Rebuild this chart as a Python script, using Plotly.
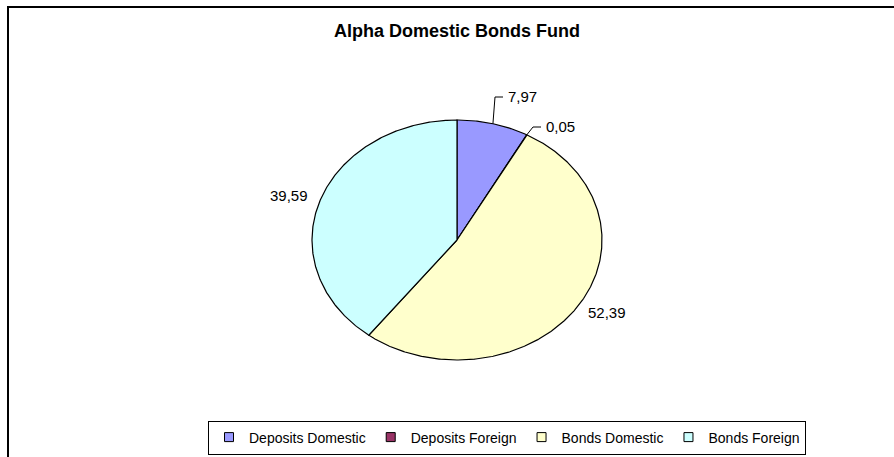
import numpy as np
import plotly.graph_objects as go

# ---- data ----
categories = ["Deposits Domestic", "Deposits Foreign", "Bonds Domestic", "Bonds Foreign"]
values = [7.97, 0.05, 52.39, 39.59]
colors = ["#9999FF", "#993366", "#FFFFCC", "#CCFFFF"]
title_text = "Alpha Domestic Bonds Fund"

# ---- layout geometry (pixels) ----
W, H = 894, 457
CX, CY, RX, RY = 457, 240, 145, 120   # ellipse centre / radii in px
XR, YR = 2.0, 1.6                      # axis half-ranges (data units)
FONT = "Arial, Liberation Sans, sans-serif"

def px2d(px, py):
    return (px - CX) / RX, (CY - py) / RY

x_dom = [(CX - XR * RX) / W, (CX + XR * RX) / W]
y_dom = [1 - (CY + YR * RY) / H, 1 - (CY - YR * RY) / H]

# label placement (pixels): text position, anchor, optional leader elbow points
label_layout = {
    "Deposits Domestic": dict(pos=(506, 97), anchor="left", leader=[(495, 97), (503, 97)]),
    "Deposits Foreign": dict(pos=(544, 127), anchor="left", leader=[(533, 127), (541, 127)]),
    "Bonds Domestic": dict(pos=(607, 312), anchor="center", leader=None),
    "Bonds Foreign": dict(pos=(289, 195), anchor="center", leader=None),
}

fig = go.Figure()
total = float(sum(values))
cum = 0.0
annotations = []
for cat, v, col in zip(categories, values, colors):
    f0 = cum / total
    f1 = (cum + v) / total
    cum += v
    n = max(3, int((f1 - f0) * 720) + 2)
    t = np.linspace(f0, f1, n) * 2 * np.pi
    xs = np.concatenate([[0], np.sin(t), [0]])
    ys = np.concatenate([[0], np.cos(t), [0]])
    fig.add_trace(go.Scatter(
        x=xs, y=ys, mode="lines", fill="toself", fillcolor=col,
        line=dict(color="black", width=1.2), showlegend=False, hoverinfo="skip"))
    # legend entry
    fig.add_trace(go.Scatter(
        x=[None], y=[None], mode="markers", name=cat,
        marker=dict(symbol="square", size=9, color=col, line=dict(color="black", width=1))))
    lab = label_layout[cat]
    txt = f"{v:.2f}".replace(".", ",")
    lx, ly = px2d(*lab["pos"])
    if lab["leader"]:
        tm = (f0 + f1) / 2 * 2 * np.pi
        pts = [(np.sin(tm), np.cos(tm))] + [px2d(*p) for p in lab["leader"]]
        fig.add_trace(go.Scatter(
            x=[p[0] for p in pts], y=[p[1] for p in pts], mode="lines",
            line=dict(color="black", width=1), showlegend=False, hoverinfo="skip"))
    annotations.append(dict(
        x=lx, y=ly, xref="x", yref="y", text=txt, showarrow=False,
        xanchor=lab["anchor"], yanchor="middle",
        font=dict(family=FONT, size=15, color="black")))

fig.update_layout(
    width=W, height=H,
    margin=dict(l=0, r=0, t=0, b=0),
    paper_bgcolor="white", plot_bgcolor="white",
    title=dict(text=title_text, x=CX / W, y=1 - 31 / H, xanchor="center", yanchor="middle",
               font=dict(family=FONT, size=18, color="black", weight="bold")),
    xaxis=dict(domain=x_dom, range=[-XR, XR], visible=False, fixedrange=True),
    yaxis=dict(domain=y_dom, range=[-YR, YR], visible=False, fixedrange=True),
    legend=dict(orientation="h", x=507 / W, y=1 - 437.5 / H, xanchor="center", yanchor="middle",
                bordercolor="black", borderwidth=1, bgcolor="white",
                font=dict(family=FONT, size=14, color="black"),
                itemwidth=30, tracegroupgap=0),
    annotations=annotations,
    shapes=[dict(type="rect", xref="paper", yref="paper",
                 x0=8 / W, x1=1.05, y0=-0.05, y1=1 - 7 / H,
                 line=dict(color="black", width=2))],
    showlegend=True,
)

fig.write_html("out.html")
